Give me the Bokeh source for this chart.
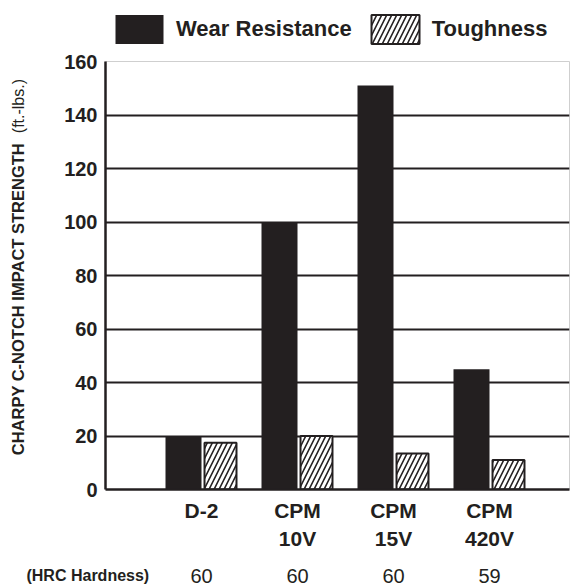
import math
from bokeh.plotting import figure
from bokeh.layouts import column, row
from bokeh.models import (Range1d, FixedTicker, Legend, LegendItem,
                          ColumnDataSource)
from bokeh.core.properties import value
from bokeh.transform import dodge
from bokeh.embed import file_html
from bokeh.resources import INLINE

# ---- data -------------------------------------------------------------
categories = ["D-2", "CPM\n10V", "CPM\n15V", "CPM\n420V"]
wear_resistance = [20, 100, 151, 45]
toughness = [17.5, 20, 13.5, 11]
hrc_hardness = ["60", "60", "60", "59"]
y_ticks = [0, 20, 40, 60, 80, 100, 120, 140, 160]
series_names = ["Wear Resistance", "Toughness"]

INK = "#231f20"
FONT = "Liberation Sans"

idx = list(range(len(categories)))
src = ColumnDataSource(dict(x=idx, wear=wear_resistance, tough=toughness,
                            hrc=hrc_hardness))

black_style = dict(fill_color=INK, line_color=None)
hatch_style = dict(fill_color="white", line_color=INK, line_width=2,
                   hatch_pattern="/", hatch_color=INK, hatch_weight=1.6,
                   hatch_scale=10)


def strip(**kw):
    fig = figure(title=None, output_backend="svg", toolbar_location=None,
                 x_axis_location=None, y_axis_location=None, **kw)
    fig.xgrid.visible = False
    fig.ygrid.visible = False
    fig.outline_line_color = None
    return fig


# ---- main chart ---------------------------------------------------------
p = figure(title=None, width=530, height=505, output_backend="svg",
           toolbar_location=None,
           x_range=Range1d(-1, 3.8333), y_range=Range1d(0, 160),
           min_border_left=65, min_border_right=1, min_border_top=11,
           min_border_bottom=66)
p.outline_line_color = "#cfcfcf"
p.outline_line_width = 1

black = p.vbar(x=dodge("x", -0.1875, range=p.x_range), top="wear", width=0.375,
               source=src, **black_style)
hatched = p.vbar(x=dodge("x", 0.198, range=p.x_range), top="tough",
                 width=0.333, source=src, **hatch_style)

p.xgrid.visible = False
p.ygrid.ticker = FixedTicker(ticks=y_ticks)
p.ygrid.grid_line_color = INK
p.ygrid.grid_line_width = 2

p.yaxis.ticker = FixedTicker(ticks=y_ticks)
p.yaxis.minor_tick_line_color = None
p.yaxis.major_tick_in = 0
p.yaxis.major_tick_out = 0
p.yaxis.major_label_standoff = 8
p.yaxis.axis_line_color = INK
p.yaxis.axis_line_width = 2.5
p.yaxis.major_label_text_font = FONT
p.yaxis.major_label_text_font_style = "bold"
p.yaxis.major_label_text_font_size = "20px"
p.yaxis.major_label_text_color = INK

p.xaxis.ticker = FixedTicker(ticks=idx)
p.xaxis.major_label_overrides = {i: c for i, c in zip(idx, categories)}
p.xaxis.minor_tick_line_color = None
p.xaxis.major_tick_in = 0
p.xaxis.major_tick_out = 0
p.xaxis.major_label_standoff = 9
p.xaxis.axis_line_color = INK
p.xaxis.axis_line_width = 2.5
p.xaxis.major_label_text_font = FONT
p.xaxis.major_label_text_font_style = "bold"
p.xaxis.major_label_text_font_size = "21px"
p.xaxis.major_label_text_line_height = 1.22
p.xaxis.major_label_text_color = INK

# ---- y-axis title strip ---------------------------------------------------
left = strip(width=40, height=505, x_range=Range1d(0, 1), y_range=p.y_range,
             min_border_left=0, min_border_right=0, min_border_top=11,
             min_border_bottom=66)
left.text(x=[0.44], y=[12.8], text=["CHARPY C-NOTCH IMPACT STRENGTH"],
          angle=math.pi / 2, text_align="left", text_baseline="middle",
          text_font=value(FONT), text_font_style="bold",
          text_font_size="16.5px", text_color=INK)
left.text(x=[0.44], y=[133.2], text=["(ft.-lbs.)"],
          angle=math.pi / 2, text_align="left", text_baseline="middle",
          text_font=value(FONT), text_font_size="16px", text_color=INK)

# ---- legend strip -------------------------------------------------------
top = strip(width=570, height=50, x_range=Range1d(0, 1), y_range=Range1d(0, 1),
            min_border=0)
key_black = top.vbar(x="x", top="wear", width=0.375, source=src,
                     visible=False, **black_style)
key_hatch = top.vbar(x="x", top="tough", width=0.333, source=src,
                     visible=False, **hatch_style)
legend = Legend(items=[LegendItem(label=series_names[0], renderers=[key_black]),
                       LegendItem(label=series_names[1], renderers=[key_hatch])],
                location=(109, 3), orientation="horizontal",
                glyph_width=60, glyph_height=36, label_standoff=7, spacing=13,
                padding=0, margin=0, border_line_color=None,
                background_fill_alpha=0,
                label_text_font=FONT, label_text_font_style="bold",
                label_text_font_size="22px", label_text_color=INK,
                label_text_baseline="alphabetic")
top.add_layout(legend)

# ---- hardness strip -----------------------------------------------------
bottom = strip(width=570, height=30, x_range=Range1d(-2.09375, 3.84375),
               y_range=Range1d(0, 30), min_border=0)
bottom.text(x="x", y=10, text="hrc", source=src, text_align="center",
            text_baseline="alphabetic", text_font=value(FONT),
            text_font_size="20px", text_color=INK)
bottom.text(x=[-1.823], y=[10.5], text=["(HRC Hardness)"], text_align="left",
            text_baseline="alphabetic", text_font=value(FONT),
            text_font_style="bold", text_font_size="16px", text_color=INK)

layout = column(top, row(left, p, spacing=0), bottom, spacing=0)
open("out.html", "w").write(file_html(layout, INLINE))
